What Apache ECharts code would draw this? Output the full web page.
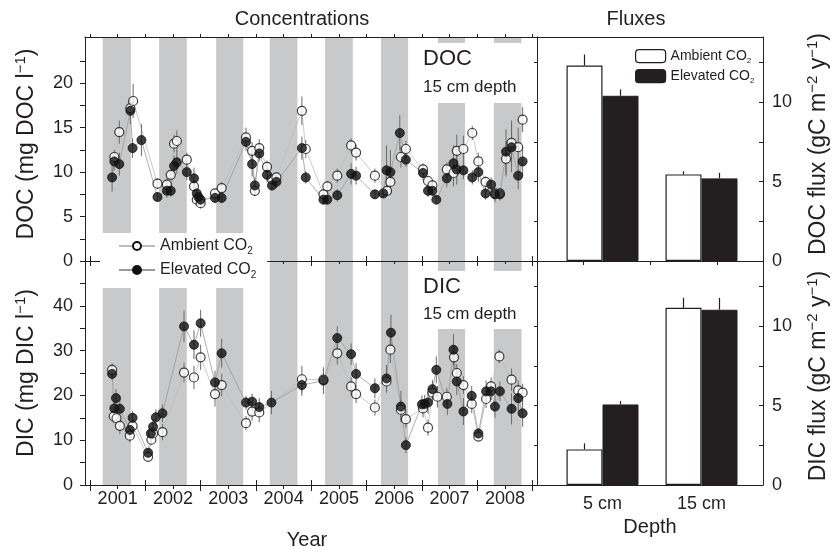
<!DOCTYPE html>
<html>
<head>
<meta charset="utf-8">
<title>DOC and DIC concentrations and fluxes</title>
<script src="https://cdn.jsdelivr.net/npm/echarts@6/dist/echarts.min.js"></script>
<style>
  html, body { margin: 0; padding: 0; background: #fff; }
  #chart { width: 838px; height: 547px; }
</style>
</head>
<body>
<div id="chart"></div>
<script>
// ---- values ----

// year labels on the time axis
var yearLabels = ['2001', '2002', '2003', '2004', '2005', '2006', '2007', '2008'];

// grey growing-season bands (decimal year)
var bandStart = [2001.23, 2002.25, 2003.28, 2004.25, 2005.25, 2006.26, 2007.29, 2008.30];
var bandEnd   = [2001.74, 2002.75, 2003.77, 2004.75, 2005.75, 2006.75, 2007.78, 2008.80];

// DOC, 15 cm depth (mg DOC l-1): [decimal year, mean, SE]
var docAmbient = [
  [2001.44, 11.7, 0.8], [2001.53, 14.5, 1.3], [2001.73, 17.2, 1.0], [2001.78, 18.0, 1.9],
  [2002.22, 8.7, 0.6], [2002.39, 8.6, 0.7], [2002.46, 9.7, 0.6], [2002.52, 13.2, 1.0],
  [2002.57, 13.5, 1.2], [2002.75, 11.4, 0.8], [2002.88, 8.4, 0.7], [2002.93, 6.9, 0.5],
  [2003.00, 6.5, 0.6], [2003.26, 7.6, 0.5], [2003.38, 8.2, 0.7], [2003.82, 13.9, 1.1],
  [2003.93, 12.4, 1.0], [2003.98, 7.9, 0.6], [2004.06, 12.7, 1.0], [2004.20, 10.6, 0.7],
  [2004.29, 9.2, 0.5], [2004.37, 9.4, 0.5], [2004.83, 16.9, 1.6], [2004.90, 12.6, 1.0],
  [2005.22, 7.5, 0.5], [2005.29, 8.4, 0.6], [2005.47, 9.6, 0.8], [2005.72, 13.0, 0.8],
  [2005.81, 12.2, 0.9], [2006.15, 9.6, 0.8], [2006.37, 7.9, 0.5], [2006.43, 8.9, 0.6],
  [2006.62, 11.7, 1.2], [2006.71, 12.6, 0.9], [2007.02, 10.3, 0.7], [2007.11, 9.0, 0.6],
  [2007.19, 8.5, 0.5], [2007.45, 10.3, 0.8], [2007.57, 9.9, 1.5], [2007.63, 12.4, 1.8],
  [2007.75, 12.6, 1.5], [2007.91, 14.4, 0.8], [2008.02, 11.2, 1.0], [2008.15, 8.9, 0.6],
  [2008.32, 7.6, 0.5], [2008.41, 7.6, 0.5], [2008.52, 11.5, 2.0], [2008.62, 13.3, 2.5],
  [2008.74, 12.8, 2.2], [2008.82, 15.9, 1.4]
];
var docElevated = [
  [2001.40, 9.4, 1.6], [2001.44, 11.2, 1.0], [2001.53, 10.9, 1.3], [2001.73, 16.9, 1.5],
  [2001.77, 12.7, 1.1], [2001.93, 13.6, 1.8], [2002.22, 7.2, 0.5], [2002.39, 7.9, 0.8],
  [2002.46, 7.9, 0.7], [2002.52, 10.7, 1.2], [2002.57, 11.1, 1.3], [2002.75, 10.0, 0.9],
  [2002.88, 9.3, 1.2], [2002.93, 7.6, 0.6], [2002.96, 7.2, 0.5], [2003.00, 6.9, 0.5],
  [2003.26, 7.1, 0.6], [2003.38, 7.1, 0.6], [2003.82, 13.4, 1.0], [2003.93, 10.9, 1.4],
  [2003.98, 8.5, 0.9], [2004.06, 12.1, 0.9], [2004.20, 9.7, 0.8], [2004.29, 8.5, 0.6],
  [2004.37, 8.9, 0.7], [2004.83, 12.7, 1.3], [2004.90, 9.4, 0.7], [2005.22, 6.9, 0.5],
  [2005.29, 6.9, 0.5], [2005.47, 7.4, 0.7], [2005.72, 9.8, 1.2], [2005.81, 9.6, 1.0],
  [2006.15, 7.5, 0.5], [2006.30, 7.6, 0.5], [2006.36, 10.2, 2.8], [2006.43, 10.0, 2.5],
  [2006.60, 14.4, 2.0], [2006.71, 11.4, 0.8], [2007.02, 9.9, 0.8], [2007.11, 7.9, 0.7],
  [2007.19, 7.9, 0.6], [2007.26, 6.9, 0.5], [2007.45, 9.3, 1.0], [2007.57, 11.0, 2.0],
  [2007.63, 10.3, 1.7], [2007.75, 10.2, 1.0], [2007.91, 9.4, 0.8], [2008.02, 10.0, 1.1],
  [2008.15, 7.6, 0.7], [2008.25, 8.6, 0.8], [2008.32, 7.5, 0.9], [2008.41, 7.5, 0.7],
  [2008.52, 12.3, 2.5], [2008.62, 12.8, 2.8], [2008.74, 9.6, 1.5], [2008.82, 11.2, 1.6]
];

// DIC, 15 cm depth (mg DIC l-1): [decimal year, mean, SE]
var dicAmbient = [
  [2001.40, 25.7, 1.5], [2001.43, 15.3, 1.5], [2001.48, 14.9, 1.5], [2001.54, 13.2, 1.8],
  [2001.72, 11.0, 1.5], [2001.77, 13.2, 1.4], [2002.05, 6.3, 0.8], [2002.11, 10.1, 1.2],
  [2002.14, 11.5, 1.2], [2002.31, 11.8, 1.8], [2002.70, 25.1, 2.2], [2002.88, 24.0, 2.6],
  [2003.00, 28.5, 2.8], [2003.26, 20.3, 2.8], [2003.38, 22.3, 2.5], [2003.82, 13.8, 1.6],
  [2003.93, 16.4, 2.0], [2004.06, 16.2, 2.2], [2004.83, 23.6, 3.0], [2005.22, 23.5, 2.4],
  [2005.47, 29.4, 2.5], [2005.72, 22.0, 2.0], [2005.81, 20.3, 2.0], [2006.15, 17.3, 1.8],
  [2006.36, 23.1, 2.5], [2006.43, 30.2, 3.0], [2006.62, 16.8, 2.2], [2006.71, 14.7, 2.0],
  [2007.02, 17.1, 2.0], [2007.11, 12.8, 1.8], [2007.19, 20.6, 2.0], [2007.28, 19.7, 2.4],
  [2007.45, 19.7, 2.0], [2007.58, 28.5, 2.5], [2007.63, 25.0, 2.0], [2007.75, 22.3, 2.0],
  [2007.90, 18.1, 2.0], [2008.02, 10.8, 1.0], [2008.16, 19.2, 2.0], [2008.25, 22.0, 2.0],
  [2008.40, 28.7, 1.5], [2008.62, 23.5, 2.5], [2008.74, 21.1, 2.2], [2008.82, 20.6, 2.0]
];
var dicElevated = [
  [2001.40, 24.8, 1.5], [2001.44, 17.1, 1.6], [2001.47, 19.4, 2.0], [2001.54, 17.0, 2.2],
  [2001.72, 12.3, 1.8], [2001.77, 15.0, 1.5], [2002.05, 7.2, 1.0], [2002.10, 11.5, 1.5],
  [2002.14, 13.0, 1.8], [2002.19, 15.1, 1.8], [2002.31, 16.0, 2.0], [2002.70, 35.4, 3.5],
  [2002.88, 31.3, 3.2], [2003.00, 36.1, 3.0], [2003.26, 22.9, 2.6], [2003.38, 29.4, 3.2],
  [2003.82, 18.4, 1.5], [2003.93, 18.6, 1.8], [2004.06, 17.4, 2.0], [2004.28, 18.4, 2.6],
  [2004.83, 22.3, 2.4], [2005.22, 23.3, 3.0], [2005.47, 32.8, 2.6], [2005.72, 29.2, 2.4],
  [2005.81, 24.8, 2.4], [2006.15, 21.6, 2.2], [2006.36, 23.8, 3.0], [2006.44, 34.0, 4.0],
  [2006.62, 17.5, 3.5], [2006.71, 8.9, 1.8], [2007.00, 18.0, 2.0], [2007.05, 18.1, 2.0],
  [2007.11, 18.4, 2.5], [2007.19, 21.4, 2.0], [2007.26, 25.7, 3.0], [2007.46, 18.1, 2.5],
  [2007.57, 30.2, 3.5], [2007.63, 23.1, 3.0], [2007.75, 16.4, 3.0], [2007.90, 19.9, 2.2],
  [2008.02, 11.5, 1.2], [2008.16, 20.9, 2.4], [2008.25, 20.9, 2.0], [2008.32, 17.5, 2.5],
  [2008.41, 20.9, 2.2], [2008.62, 17.0, 3.5], [2008.74, 19.4, 3.0], [2008.82, 16.0, 3.0]
];

// fluxes (gC m-2 y-1) by depth
var depthCats = ['5 cm', '15 cm'];
var docFluxAmb = [12.3, 5.45];
var docFluxAmbSe = [0.7, 0.2];
var docFluxElev = [10.4, 5.2];
var docFluxElevSe = [0.4, 0.35];
var dicFluxAmb = [2.24, 11.15];
var dicFluxAmbSe = [0.38, 0.63];
var dicFluxElev = [5.07, 11.03];
var dicFluxElevSe = [0.22, 0.75];

// axis tick labels
var docLabels = [0, 5, 10, 15, 20];
var dicLabels = [0, 10, 20, 30, 40];
var fluxLabels = [0, 5, 10];

// ---- styling / layout ----
var TXT = '#231f20';
var AX = '#231f20';
var BAND = '#c8c9ca';
var FONT = '"Liberation Sans", Arial, Helvetica, sans-serif';
var XMIN = 2000.91, XMAX = 2009.08;
var DOC_MAX = 25.2, DIC_MAX = 50, FLUX_MAX = 14.1;
var FRAME_MAX = 3.373;              // flux frame x range, 1 unit = one tick step
var frameTicks = [0.687, 1.687, 2.687];
var BAR_W = 36;

function steps(a, b, s) {
  var out = [];
  for (var v = a; v <= b + 1e-9; v += s) out.push(Math.round(v * 1000) / 1000);
  return out;
}
var yearTicks = steps(2001, 2009, 1);
var midTicks = yearLabels.map(function (s) { return +s + 0.5; });
var halfTicks = steps(2001, 2009, 0.5);

function xVal(grid, pos, ticks, len, inside, line) {
  return {
    gridIndex: grid, type: 'value', position: pos, min: XMIN, max: XMAX, z: 5,
    axisLine: { show: line, onZero: false, lineStyle: { color: AX, width: 1 } },
    axisTick: { show: true, inside: inside, length: len, customValues: ticks, lineStyle: { color: AX, width: 1 } },
    axisLabel: { show: false },
    splitLine: { show: false }
  };
}
function yVal(grid, pos, max, ticks, len, inside, labels, margin) {
  return {
    gridIndex: grid, type: 'value', position: pos, min: 0, max: max, z: 5,
    axisLine: { show: true, onZero: false, lineStyle: { color: AX, width: 1 } },
    axisTick: { show: true, inside: inside, length: len, customValues: ticks, lineStyle: { color: AX, width: 1 } },
    axisLabel: labels ? { show: true, customValues: labels, margin: margin, fontSize: 18, color: TXT, fontFamily: FONT } : { show: false },
    splitLine: { show: false }
  };
}
function frameX(grid, pos, ticks) {
  return {
    gridIndex: grid, type: 'value', position: pos, min: 0, max: FRAME_MAX, z: 5,
    axisLine: { show: true, onZero: false, lineStyle: { color: AX, width: 1 } },
    axisTick: { show: !!ticks, length: 4, customValues: ticks || [], lineStyle: { color: AX, width: 1 } },
    axisLabel: { show: false },
    splitLine: { show: false }
  };
}

var dicBottom = xVal(1, 'bottom', yearTicks, 6, false, true);
dicBottom.axisLabel = {
  show: true, customValues: midTicks, margin: 5, fontSize: 18, color: TXT, fontFamily: FONT,
  formatter: function (v) { return yearLabels[Math.round(v - 0.5) - 2001]; }
};

var xAxes = [
  xVal(0, 'bottom', yearTicks, 5, false, true),   // 0 DOC bottom
  xVal(0, 'bottom', yearTicks, 5, true, false),   // 1
  xVal(0, 'bottom', midTicks, 3, false, false),   // 2
  xVal(0, 'top', halfTicks, 3, false, true),      // 3 DOC top
  dicBottom,                                      // 4 DIC bottom
  xVal(1, 'bottom', yearTicks, 5, true, false),   // 5
  xVal(1, 'bottom', midTicks, 4, false, false),   // 6
  frameX(2, 'bottom', frameTicks),                // 7 DOC flux frame
  frameX(2, 'top', null),                         // 8
  frameX(3, 'bottom', null),                      // 9 DIC flux frame
  { gridIndex: 4, type: 'category', data: depthCats, show: false },   // 10 DOC bars
  { gridIndex: 5, type: 'category', data: depthCats,                  // 11 DIC bars
    axisLine: { show: false }, axisTick: { show: false }, splitLine: { show: false },
    axisLabel: { show: true, margin: 10, fontSize: 18, color: TXT, fontFamily: FONT } }
];

var fluxTicks = steps(0, 12.5, 2.5);
var yAxes = [
  yVal(0, 'left', DOC_MAX, steps(0, 22.5, 2.5), 5, false, docLabels, 12),   // 0
  yVal(1, 'left', DIC_MAX, steps(0, 45, 5), 5, false, dicLabels, 12),       // 1
  yVal(2, 'right', FLUX_MAX, fluxTicks, 4, true, fluxLabels, 9),            // 2
  yVal(2, 'left', FLUX_MAX, fluxTicks, 3, false, null, 0),                  // 3
  yVal(3, 'right', FLUX_MAX, fluxTicks, 4, true, fluxLabels, 9),            // 4
  yVal(3, 'left', FLUX_MAX, fluxTicks, 3, false, null, 0),                  // 5
  { gridIndex: 4, type: 'value', min: 0, max: FLUX_MAX, show: false },      // 6
  { gridIndex: 5, type: 'value', min: 0, max: FLUX_MAX, show: false }       // 7
];

// ---- series ----
function bandRender(params, api) {
  var cs = params.coordSys;
  var a = api.coord([api.value(0), 0]);
  var b = api.coord([api.value(1), 0]);
  return { type: 'rect', shape: { x: a[0], y: cs.y, width: b[0] - a[0], height: cs.height }, style: { fill: BAND } };
}
function errRender(params, api) {
  var x = api.value(0), v = api.value(1), e = api.value(2);
  var lo = api.coord([x, v - e]), hi = api.coord([x, v + e]);
  return { type: 'line', shape: { x1: lo[0], y1: lo[1], x2: hi[0], y2: hi[1] }, style: { stroke: '#6a6a6a', lineWidth: 1 } };
}
function barErr(offset) {
  return function (params, api) {
    var c = api.value(0), v = api.value(1), e = api.value(2);
    var a = api.coord([c, v]), b = api.coord([c, v + e]);
    return { type: 'line', shape: { x1: a[0] + offset, y1: a[1], x2: b[0] + offset, y2: b[1] }, style: { stroke: TXT, lineWidth: 1.2 } };
  };
}

var AMB = 'Ambient CO2', ELV = 'Elevated CO2';
var ambItem = { color: '#fff', borderColor: '#111', borderWidth: 1.2 };
var elvItem = { color: '#111', borderColor: '#111', borderWidth: 1 };

function panelSeries(xi, yi, amb, elv) {
  var bands = bandStart.map(function (s, i) { return [s, bandEnd[i], 0]; });
  var xy = function (p) { return [p[0], p[1]]; };
  return [
    { type: 'custom', xAxisIndex: xi, yAxisIndex: yi, data: bands, encode: { x: [0, 1], y: 2 },
      renderItem: bandRender, silent: true, z: 1 },
    { type: 'line', name: AMB, xAxisIndex: xi, yAxisIndex: yi, data: amb.map(xy), showSymbol: false,
      symbol: 'circle', symbolSize: 9, itemStyle: ambItem, lineStyle: { color: '#bdbdbd', width: 0.8 }, silent: true, z: 2 },
    { type: 'line', name: ELV, xAxisIndex: xi, yAxisIndex: yi, data: elv.map(xy), showSymbol: false,
      symbol: 'circle', symbolSize: 9, itemStyle: elvItem, lineStyle: { color: '#9a9a9a', width: 0.8 }, silent: true, z: 2 },
    { type: 'custom', xAxisIndex: xi, yAxisIndex: yi, data: amb, encode: { x: 0, y: 1 }, renderItem: errRender, silent: true, z: 3 },
    { type: 'custom', xAxisIndex: xi, yAxisIndex: yi, data: elv, encode: { x: 0, y: 1 }, renderItem: errRender, silent: true, z: 3 },
    { type: 'scatter', name: AMB, xAxisIndex: xi, yAxisIndex: yi, data: amb.map(xy), symbolSize: 9, itemStyle: ambItem, silent: true, z: 4 },
    { type: 'scatter', name: ELV, xAxisIndex: xi, yAxisIndex: yi, data: elv.map(xy), symbolSize: 9, itemStyle: elvItem, silent: true, z: 5 }
  ];
}

function fluxSeries(xi, yi, amb, ambSe, elv, elvSe) {
  var pack = function (vals, se) { return vals.map(function (v, i) { return [i, v, se[i]]; }); };
  return [
    { type: 'bar', name: AMB + ' flux', xAxisIndex: xi, yAxisIndex: yi, data: amb, barWidth: BAR_W, barGap: '0%',
      itemStyle: { color: '#fff', borderColor: TXT, borderWidth: 1.2 }, silent: true, z: 3 },
    { type: 'bar', name: ELV + ' flux', xAxisIndex: xi, yAxisIndex: yi, data: elv, barWidth: BAR_W, barGap: '0%',
      itemStyle: { color: TXT, borderColor: TXT, borderWidth: 1 }, silent: true, z: 3 },
    { type: 'custom', xAxisIndex: xi, yAxisIndex: yi, data: pack(amb, ambSe), encode: { x: 0, y: 1 },
      renderItem: barErr(-BAR_W / 2), silent: true, z: 2 },
    { type: 'custom', xAxisIndex: xi, yAxisIndex: yi, data: pack(elv, elvSe), encode: { x: 0, y: 1 },
      renderItem: barErr(BAR_W / 2), silent: true, z: 2 }
  ];
}

var series = []
  .concat(panelSeries(0, 0, docAmbient, docElevated))
  .concat(panelSeries(4, 1, dicAmbient, dicElevated))
  .concat(fluxSeries(10, 6, docFluxAmb, docFluxAmbSe, docFluxElev, docFluxElevSe))
  .concat(fluxSeries(11, 7, dicFluxAmb, dicFluxAmbSe, dicFluxElev, dicFluxElevSe));

// CO2 with a subscript 2
function co2Label(name) {
  var base = name.replace(' flux', '');
  return '{t|' + base.slice(0, -1) + '}{sub|2}';
}
function legendRich(size) {
  return {
    t: { fontSize: size, lineHeight: size + 4, color: TXT, fontFamily: FONT },
    sub: { fontSize: Math.round(size * 0.6), lineHeight: 4, verticalAlign: 'bottom', color: TXT, fontFamily: FONT }
  };
}

// rotated axis titles with superscripts
var supRich = {
  t: { fontSize: 23, lineHeight: 27, fill: TXT, fontFamily: FONT },
  sup: { fontSize: 15, lineHeight: 15, verticalAlign: 'top', fill: TXT, fontFamily: FONT }
};
function vTitle(x, y, text) {
  return { type: 'text', x: x, y: y, rotation: Math.PI / 2, z: 100, silent: true,
    style: { text: text, rich: supRich, align: 'center', verticalAlign: 'middle' } };
}
function hTitle(x, y, text, size) {
  return { type: 'text', x: x, y: y, z: 100, silent: true,
    style: { text: text, fontSize: size, fontFamily: FONT, fill: TXT, align: 'center', verticalAlign: 'top' } };
}
var boxRich = {
  big: { fontSize: 22, lineHeight: 30, fill: TXT, fontFamily: FONT },
  small: { fontSize: 17, lineHeight: 26, fill: TXT, fontFamily: FONT }
};
function tagBox(x, y, name, lh, pad) {
  var rich = { big: Object.assign({}, boxRich.big, { lineHeight: lh }), small: boxRich.small };
  return { type: 'text', x: x, y: y, z: 100, silent: true,
    style: { text: '{big|' + name + '}\n{small|15 cm depth}', rich: rich, backgroundColor: '#fff', padding: pad } };
}

var option = {
  animation: false,
  backgroundColor: '#fff',
  textStyle: { fontFamily: FONT, color: TXT },
  grid: [
    { left: 85, top: 37, width: 452, height: 224 },
    { left: 85, top: 261, width: 452, height: 224 },
    { left: 537, top: 37, width: 226, height: 224 },
    { left: 537, top: 261, width: 226, height: 224 },
    { left: 553, top: 37, width: 198, height: 224 },
    { left: 553, top: 261, width: 198, height: 224 }
  ],
  xAxis: xAxes,
  yAxis: yAxes,
  legend: [
    { data: [AMB, ELV], orient: 'vertical', left: 100, top: 233, itemWidth: 36, itemHeight: 10, itemGap: 6,
      padding: [5, 11, 8, 18], backgroundColor: '#fff', z: 10, selectedMode: false,
      formatter: co2Label, textStyle: { fontSize: 16, color: TXT, fontFamily: FONT, rich: legendRich(16) } },
    { data: [AMB + ' flux', ELV + ' flux'], orient: 'vertical', left: 635, top: 49, itemWidth: 30, itemHeight: 13,
      itemGap: 4, padding: 0, selectedMode: false, formatter: co2Label,
      itemStyle: { borderColor: TXT, borderWidth: 1.2 },
      textStyle: { fontSize: 14, color: TXT, fontFamily: FONT, rich: legendRich(14) } }
  ],
  graphic: [
    hTitle(302, 9, 'Concentrations', 20),
    hTitle(636, 9, 'Fluxes', 20),
    hTitle(307, 530, 'Year', 20),
    hTitle(650, 517, 'Depth', 20),
    vTitle(27, 144, '{t|DOC (mg DOC l}{sup|\u22121}{t|)}'),
    vTitle(27, 373, '{t|DIC (mg DIC l}{sup|\u22121}{t|)}'),
    vTitle(819, 144, '{t|DOC flux (gC m}{sup|\u22122}{t| y}{sup|\u22121}{t|)}'),
    vTitle(819, 376, '{t|DIC flux (gC m}{sup|\u22122}{t| y}{sup|\u22121}{t|)}'),
    tagBox(418, 43, 'DOC', 30, [1, 10, 3, 5]),
    tagBox(418, 271, 'DIC', 28, [2, 10, 2, 5])
  ],
  series: series
};

var chart = echarts.init(document.getElementById('chart'));
chart.setOption(option);
</script>
</body>
</html>
